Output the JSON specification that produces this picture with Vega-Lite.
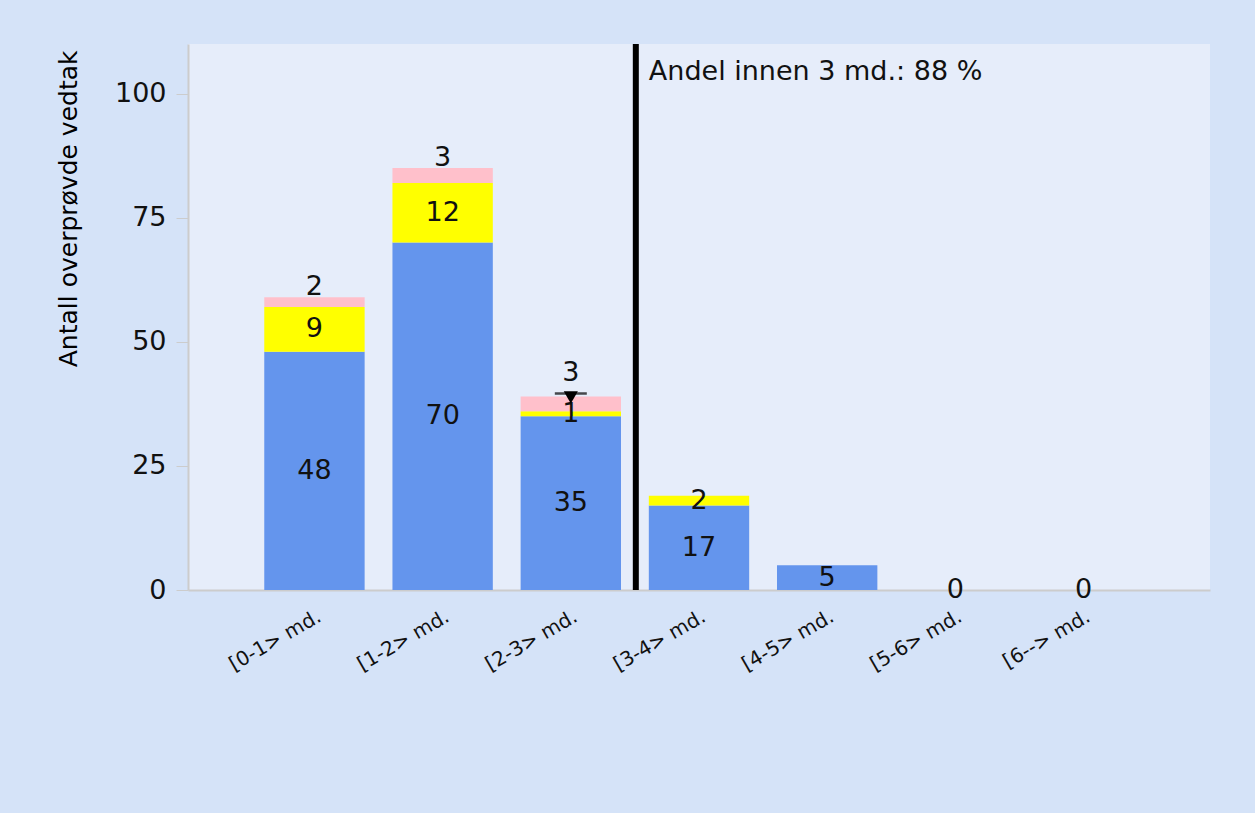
{
  "$schema": "https://vega.github.io/schema/vega-lite/v6.json",
  "width": 1022,
  "height": 546,
  "autosize": {"type": "none"},
  "padding": {"left": 188, "top": 44, "right": 45, "bottom": 223},
  "background": "#d5e3f8",
  "config": {
    "view": {"fill": "#e6edfa", "stroke": null},
    "font": "DejaVu Sans",
    "text": {"font": "DejaVu Sans"},
    "axisY": {
      "grid": false,
      "titleFontSize": 25,
      "titleFontWeight": "normal",
      "titleColor": "#000000",
      "titleX": -120,
      "titleY": 6,
      "titleAlign": "right",
      "titleBaseline": "middle",
      "titleAngle": 270,
      "labelFontSize": 27,
      "labelColor": "#111111",
      "labelPadding": 10,
      "tickSize": 12,
      "tickColor": "#cccccc",
      "domainColor": "#cccccc",
      "domainWidth": 2
    }
  },
  "datasets": {
    "bars": [
      {"cat": "[0-1> md.", "grp": "Opprettholdt", "k": 1, "n": 48},
      {"cat": "[0-1> md.", "grp": "Delvis omgjort", "k": 2, "n": 9},
      {"cat": "[0-1> md.", "grp": "Omgjort", "k": 3, "n": 2},
      {"cat": "[1-2> md.", "grp": "Opprettholdt", "k": 1, "n": 70},
      {"cat": "[1-2> md.", "grp": "Delvis omgjort", "k": 2, "n": 12},
      {"cat": "[1-2> md.", "grp": "Omgjort", "k": 3, "n": 3},
      {"cat": "[2-3> md.", "grp": "Opprettholdt", "k": 1, "n": 35},
      {"cat": "[2-3> md.", "grp": "Delvis omgjort", "k": 2, "n": 1},
      {"cat": "[2-3> md.", "grp": "Omgjort", "k": 3, "n": 3},
      {"cat": "[3-4> md.", "grp": "Opprettholdt", "k": 1, "n": 17},
      {"cat": "[3-4> md.", "grp": "Delvis omgjort", "k": 2, "n": 2},
      {"cat": "[3-4> md.", "grp": "Omgjort", "k": 3, "n": 0},
      {"cat": "[4-5> md.", "grp": "Opprettholdt", "k": 1, "n": 5},
      {"cat": "[4-5> md.", "grp": "Delvis omgjort", "k": 2, "n": 0},
      {"cat": "[4-5> md.", "grp": "Omgjort", "k": 3, "n": 0},
      {"cat": "[5-6> md.", "grp": "Opprettholdt", "k": 1, "n": 0},
      {"cat": "[5-6> md.", "grp": "Delvis omgjort", "k": 2, "n": 0},
      {"cat": "[5-6> md.", "grp": "Omgjort", "k": 3, "n": 0},
      {"cat": "[6--> md.", "grp": "Opprettholdt", "k": 1, "n": 0},
      {"cat": "[6--> md.", "grp": "Delvis omgjort", "k": 2, "n": 0},
      {"cat": "[6--> md.", "grp": "Omgjort", "k": 3, "n": 0}
    ],
    "marker": [{"cat": "[2-3> md.", "v": 39.6}],
    "note": [{"cat": "[3-4> md.", "txt": "Andel innen 3 md.: 88 %"}]
  },
  "encoding": {
    "x": {
      "field": "cat",
      "type": "nominal",
      "sort": null,
      "scale": {
        "domain": ["[0-1> md.", "[1-2> md.", "[2-3> md.", "[3-4> md.", "[4-5> md.", "[5-6> md.", "[6--> md."],
        "paddingInner": 0.217,
        "paddingOuter": 0.595
      },
      "axis": {
        "title": null,
        "labelAngle": -30,
        "labelAlign": "right",
        "labelBaseline": "top",
        "labelFontSize": 20,
        "labelColor": "#111111",
        "labelPadding": 16,
        "ticks": false,
        "domainColor": "#cccccc",
        "domainWidth": 2
      }
    }
  },
  "layer": [
    {
      "data": {"name": "bars"},
      "mark": {"type": "bar"},
      "encoding": {
        "y": {
          "field": "n",
          "type": "quantitative",
          "stack": "zero",
          "title": "Antall overprøvde vedtak",
          "scale": {"domain": [0, 110], "nice": false},
          "axis": {"values": [0, 25, 50, 75, 100], "title": "Antall overprøvde vedtak"}
        },
        "color": {
          "field": "grp",
          "type": "nominal",
          "scale": {"domain": ["Opprettholdt", "Delvis omgjort", "Omgjort"], "range": ["#6495ed", "#ffff00", "#ffc0cb"]},
          "legend": null
        },
        "order": {"field": "k", "type": "quantitative"}
      }
    },
    {
      "data": {"name": "bars"},
      "mark": {"type": "text", "fontSize": 27, "color": "#111111", "baseline": "middle"},
      "encoding": {
        "y": {"field": "n", "type": "quantitative", "stack": "zero", "bandPosition": 0.5, "title": "Antall overprøvde vedtak", "axis": {"values": [0, 25, 50, 75, 100], "title": "Antall overprøvde vedtak"}},
        "detail": {"field": "grp", "type": "nominal"},
        "order": {"field": "k", "type": "quantitative"},
        "text": {
          "condition": {"test": "datum.k == 1 || (datum.k == 2 && datum.n > 0)", "field": "n", "type": "quantitative"},
          "value": ""
        }
      }
    },
    {
      "data": {"name": "bars"},
      "transform": [
        {"stack": "n", "groupby": ["cat"], "sort": [{"field": "k", "order": "ascending"}], "as": ["n0", "n1"]},
        {"filter": "datum.k == 3 && datum.n > 0 && datum.cat != '[2-3> md.'"}
      ],
      "mark": {"type": "text", "fontSize": 27, "color": "#111111", "baseline": "alphabetic", "dy": -2},
      "encoding": {
        "y": {"field": "n1", "type": "quantitative", "title": "Antall overprøvde vedtak", "axis": {"values": [0, 25, 50, 75, 100], "title": "Antall overprøvde vedtak"}},
        "text": {"field": "n", "type": "quantitative"}
      }
    },
    {
      "data": {"name": "bars"},
      "transform": [
        {"stack": "n", "groupby": ["cat"], "sort": [{"field": "k", "order": "ascending"}], "as": ["n0", "n1"]},
        {"filter": "datum.k == 3 && datum.n > 0 && datum.cat == '[2-3> md.'"}
      ],
      "mark": {"type": "text", "fontSize": 27, "color": "#111111", "baseline": "alphabetic", "dy": -15},
      "encoding": {
        "y": {"field": "n1", "type": "quantitative", "title": "Antall overprøvde vedtak", "axis": {"values": [0, 25, 50, 75, 100], "title": "Antall overprøvde vedtak"}},
        "text": {"field": "n", "type": "quantitative"}
      }
    },
    {
      "data": {"name": "note"},
      "mark": {"type": "rule", "strokeWidth": 6, "color": "#000000", "xOffset": -13},
      "encoding": {
        "x": {"field": "cat", "type": "nominal", "bandPosition": 0}
      }
    },
    {
      "data": {"name": "note"},
      "mark": {"type": "text", "fontSize": 27, "color": "#111111", "align": "left", "baseline": "middle", "dx": 0},
      "encoding": {
        "x": {"field": "cat", "type": "nominal", "bandPosition": 0},
        "y": {"datum": 104.4, "type": "quantitative", "title": "Antall overprøvde vedtak", "axis": {"values": [0, 25, 50, 75, 100], "title": "Antall overprøvde vedtak"}},
        "text": {"field": "txt"}
      }
    },
    {
      "data": {"name": "marker"},
      "mark": {"type": "tick", "orient": "horizontal", "size": 32, "thickness": 2.5, "color": "#000000"},
      "encoding": {
        "y": {"field": "v", "type": "quantitative", "title": "Antall overprøvde vedtak", "axis": {"values": [0, 25, 50, 75, 100], "title": "Antall overprøvde vedtak"}}
      }
    },
    {
      "data": {"name": "marker"},
      "mark": {"type": "point", "shape": "triangle-down", "filled": true, "size": 200, "color": "#000000", "opacity": 1, "yOffset": 4},
      "encoding": {
        "y": {"field": "v", "type": "quantitative", "title": "Antall overprøvde vedtak", "axis": {"values": [0, 25, 50, 75, 100], "title": "Antall overprøvde vedtak"}}
      }
    }
  ]
}
